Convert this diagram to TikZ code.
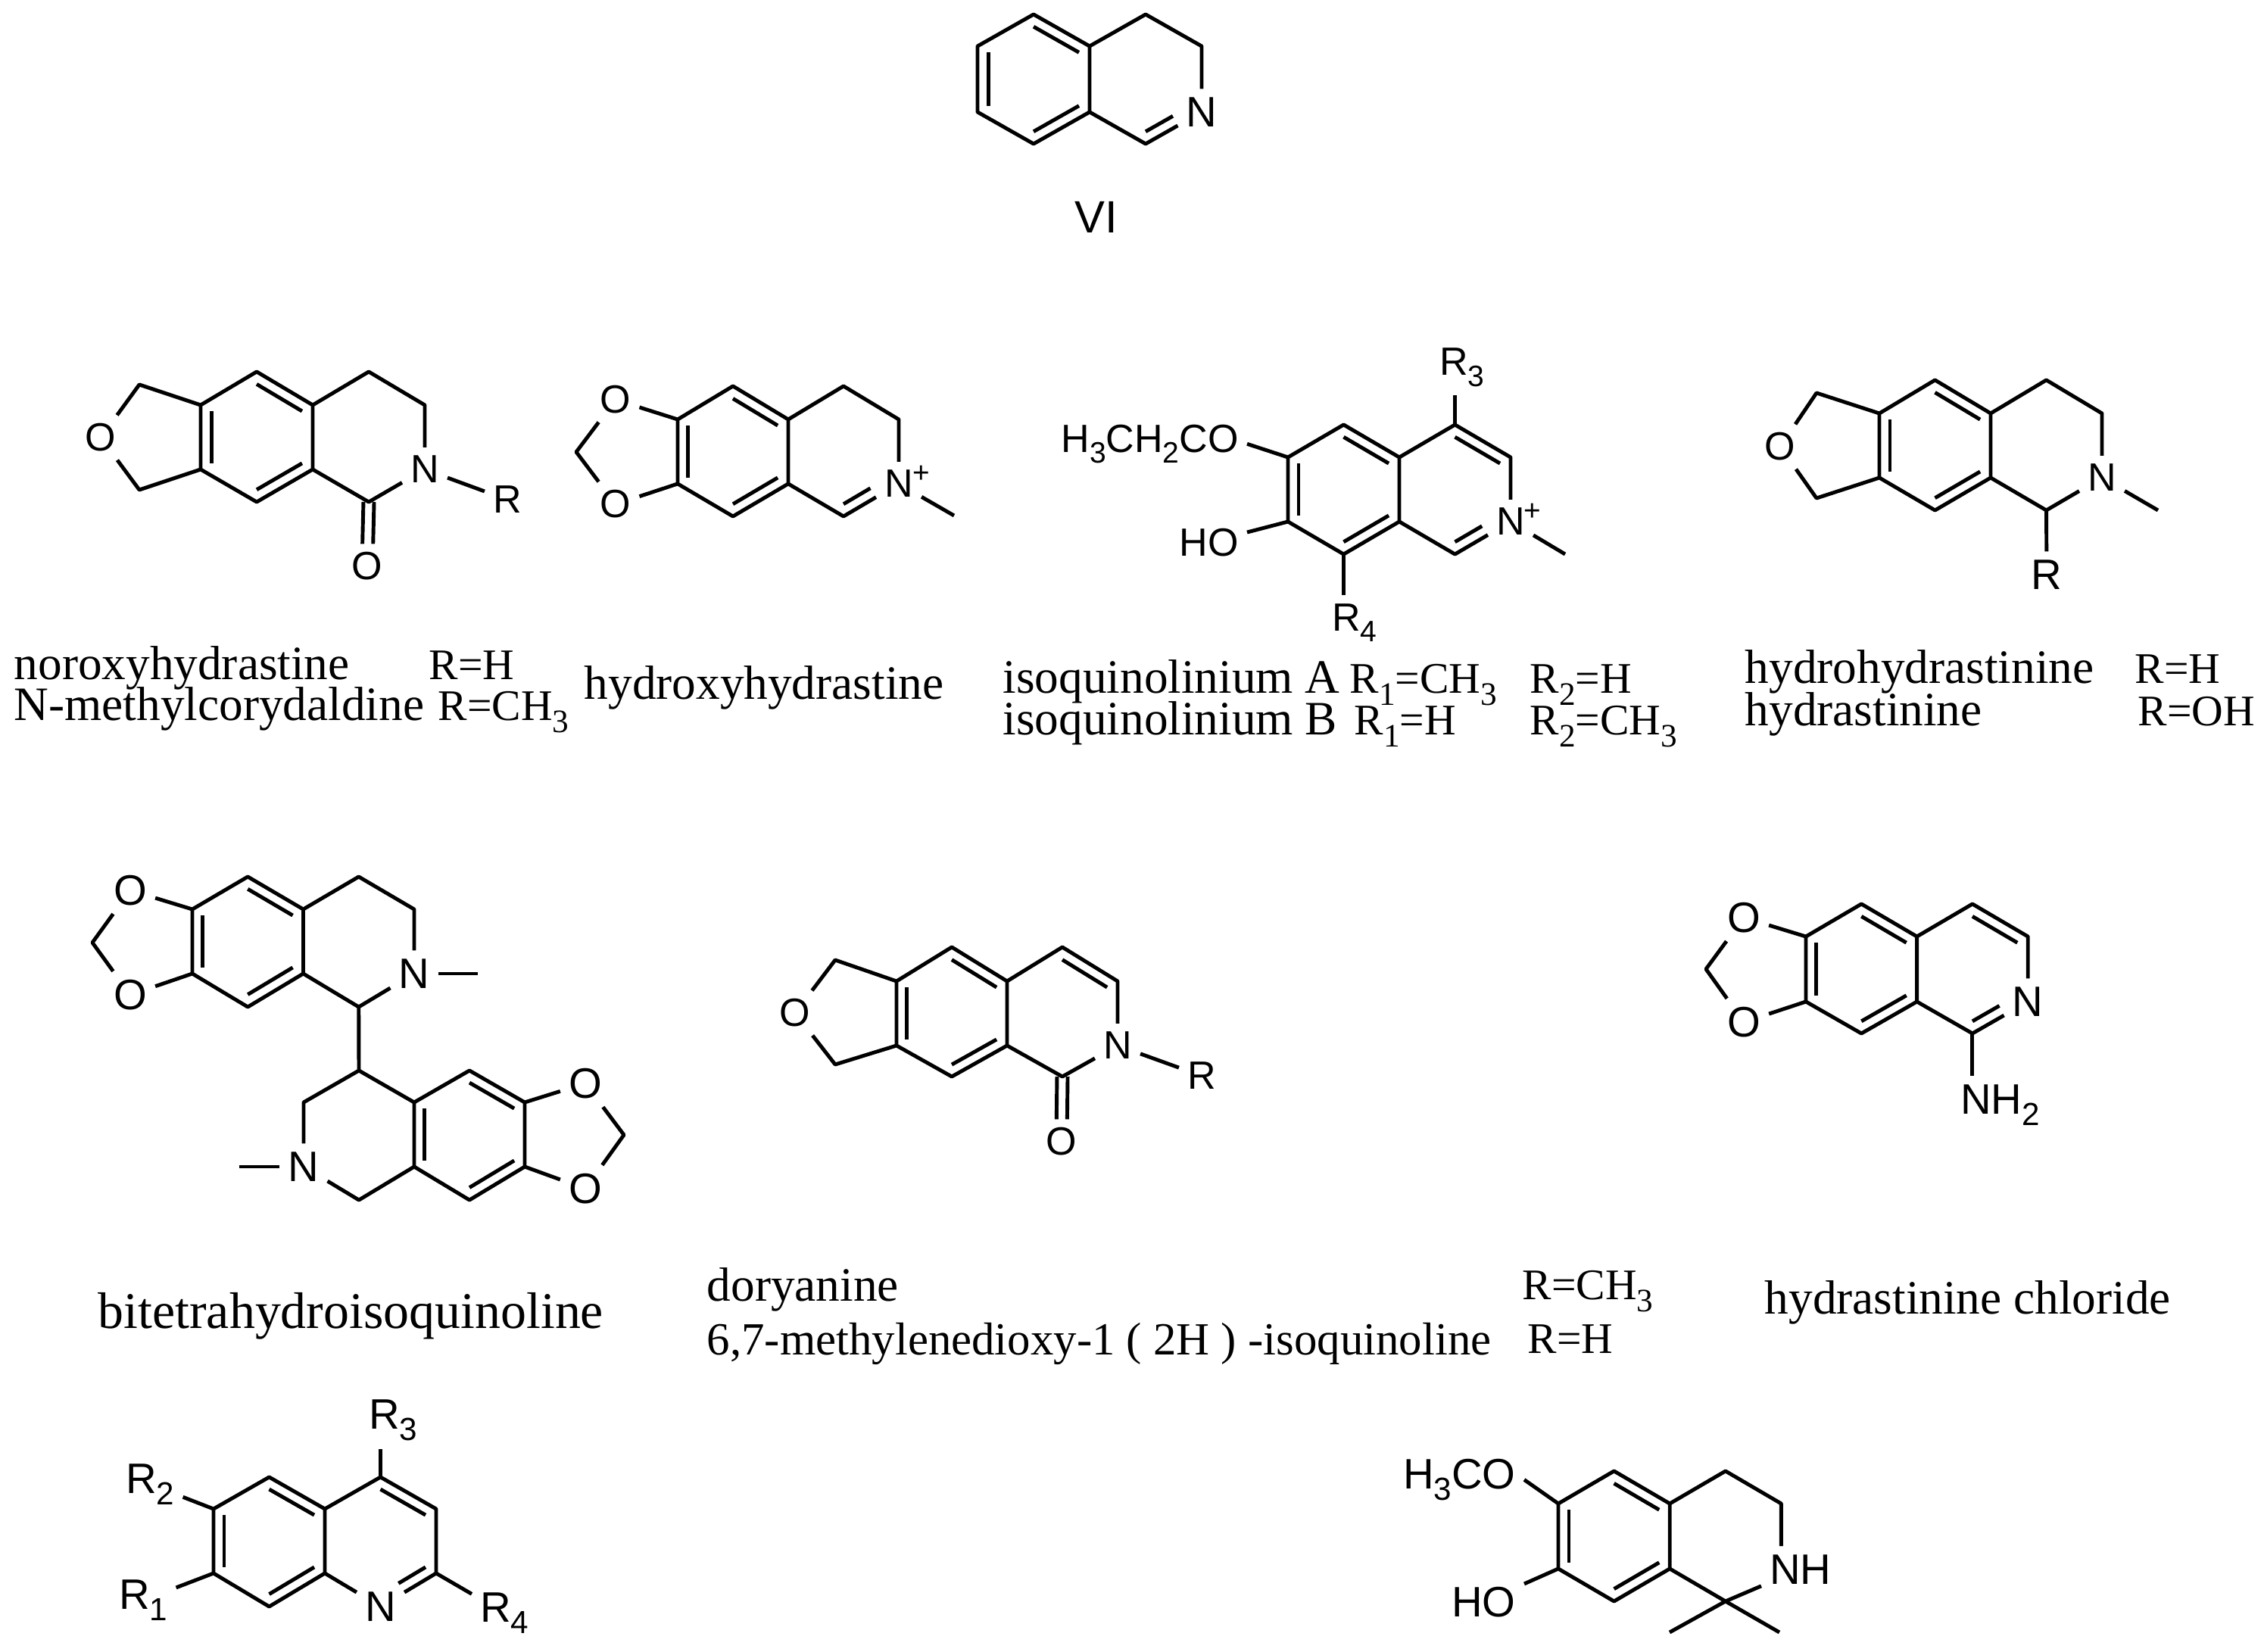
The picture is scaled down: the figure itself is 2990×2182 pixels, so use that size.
\documentclass[tikz,border=0pt]{standalone}
\usepackage{fontspec}
\setmainfont{Liberation Serif}
\setsansfont{Liberation Sans}
\usetikzlibrary{calc}
\tikzset{bond-line/.style={line width=1.4pt, line join=round}}
\tikzset{atom-label/.style={font=\sffamily\fontsize{14.8}{16}\selectfont, inner sep=3pt}}
\tikzset{atom-large/.style={font=\sffamily\fontsize{16}{18}\selectfont, inner sep=3pt}}
\tikzset{plus-label/.style={font=\sffamily\fontsize{11}{12}\selectfont, inner sep=0}}
\tikzset{name-label/.style={font=\fontsize{18}{20}\selectfont, anchor=base west, inner sep=0}}
\tikzset{r-label/.style={font=\fontsize{16.4}{20}\selectfont, anchor=base west, inner sep=0}}
\newcommand\sbs[1]{\raisebox{-0.28em}{\scalebox{0.75}{#1}}}
\newcommand\ringcoords[7]{
    \coordinate (#1a1) at ({#2+#3},#4);
    \coordinate (#1a2) at ({#2+2*#3},#5);
    \coordinate (#1a3) at ({#2+2*#3},#6);
    \coordinate (#1a4) at ({#2+#3},#7);
    \coordinate (#1a5) at (#2,#6);
    \coordinate (#1a6) at (#2,#5);
    \coordinate (#1b1) at ({#2+3*#3},#4);
    \coordinate (#1b2) at ({#2+4*#3},#5);
    \coordinate (#1b3) at ({#2+4*#3},#6);
    \coordinate (#1b4) at ({#2+3*#3},#7);
    \coordinate (#1cl) at ({#2+#3},{(#5+#6)/2});
    \coordinate (#1cr) at ({#2+3*#3},{(#5+#6)/2});
}
\newcommand\innerbond[3]{\draw[bond-line] ($(#1)!.19!(#3)$) -- ($(#2)!.19!(#3)$);}
\newcommand\innerhalf[3]{\draw[bond-line] ($(#1)!.19!(#3)$) -- ($($(#1)!.19!(#3)$)!.6!($(#2)!.19!(#3)$)$);}
\begin{document}
\begin{tikzpicture}[x=0.01cm, y=-0.01cm]
    \useasboundingbox (0,0) rectangle (2990,2182);

    \ringcoords{vi}{1291}{74}{19}{61}{148}{190}
    \node[atom-large] (vin) at (vib3) {N};
    \node[atom-large, font=\sffamily\fontsize{17}{18}\selectfont] (vilab) at (1448,287) {VI};
    \draw[bond-line] (via5) -- (via6) -- (via1) -- (via2) -- (via3) -- (via4) -- cycle;
    \draw[bond-line] (via2) -- (vib1) -- (vib2) -- (vin) -- (vib4) -- (via3);
    \innerbond{via5}{via6}{vicl}
    \innerbond{via1}{via2}{vicl}
    \innerbond{via3}{via4}{vicl}
    \innerhalf{vib4}{vib3}{vicr}

    \ringcoords{nor}{265}{74}{491}{535}{620}{663}
    \coordinate (norf1) at (184,508);
    \coordinate (norf2) at (184,647);
    \node[atom-label] (noro) at (133,578) {O};
    \node[atom-label] (norn) at (norb3) {N};
    \node[atom-label] (norr) at (670,660) {R};
    \node[atom-label] (norco) at (485,748) {O};
    \draw[bond-line] (nora5) -- (nora6) -- (nora1) -- (nora2) -- (nora3) -- (nora4) -- cycle;
    \draw[bond-line] (nora2) -- (norb1) -- (norb2) -- (norn) -- (norb4) -- (nora3);
    \draw[bond-line] (nora6) -- (norf1) -- (noro) -- (norf2) -- (nora5);
    \draw[bond-line] (norn) -- (norr);
    \draw[bond-line, transform canvas={xshift=-2pt}] (norb4) -- (norco);
    \draw[bond-line, transform canvas={xshift=2pt}] (norb4) -- (norco);
    \innerbond{nora5}{nora6}{norcl}
    \innerbond{nora1}{nora2}{norcl}
    \innerbond{nora3}{nora4}{norcl}

    \ringcoords{hyd}{895}{73}{510}{554}{639}{682}
    \coordinate (hydf) at (761,597);
    \coordinate (hydme) at (1260,681);
    \node[atom-label] (hydot) at (813,528) {O};
    \node[atom-label] (hydob) at (813,666) {O};
    \node[atom-label] (hydn) at (hydb3) {N};
    \node[plus-label] (hydplus) at (1217,626) {+};
    \draw[bond-line] (hyda5) -- (hyda6) -- (hyda1) -- (hyda2) -- (hyda3) -- (hyda4) -- cycle;
    \draw[bond-line] (hyda2) -- (hydb1) -- (hydb2) -- (hydn) -- (hydb4) -- (hyda3);
    \draw[bond-line] (hyda6) -- (hydot) -- (hydf) -- (hydob) -- (hyda5);
    \draw[bond-line] (hydn) -- (hydme);
    \innerbond{hyda5}{hyda6}{hydcl}
    \innerbond{hyda1}{hyda2}{hydcl}
    \innerbond{hyda3}{hyda4}{hydcl}
    \innerhalf{hydb4}{hydb3}{hydcr}

    \ringcoords{iso}{1701}{73.5}{561}{604}{689}{732}
    \coordinate (isome) at (2067,732);
    \node[atom-label, anchor=base west] (isor3) at (1890,496) {R\sbs{3}};
    \node[atom-label, anchor=base west] (isor4) at (1748,833) {R\sbs{4}};
    \node[atom-label, anchor=base east] (isooe) at (1647,597) {H\sbs{3}CH\sbs{2}CO};
    \node[atom-label, anchor=base east] (isoho) at (1647,734) {HO};
    \node[atom-label] (ison) at (isob3) {N};
    \node[plus-label] (isoplus) at (2024,676) {+};
    \draw[bond-line] (isoa5) -- (isoa6) -- (isoa1) -- (isoa2) -- (isoa3) -- (isoa4) -- cycle;
    \draw[bond-line] (isoa2) -- (isob1) -- (isob2) -- (ison) -- (isob4) -- (isoa3);
    \draw[bond-line] (isob1) -- (isob1 |- isor3.south);
    \draw[bond-line] (isoa4) -- (isoa4 |- isor4.north);
    \draw[bond-line] (isoa6) -- (isooe.east);
    \draw[bond-line] (isoa5) -- (isoho);
    \draw[bond-line] (ison) -- (isome);
    \innerbond{isoa5}{isoa6}{isocl}
    \innerbond{isoa1}{isoa2}{isocl}
    \innerbond{isoa3}{isoa4}{isocl}
    \innerbond{isob1}{isob2}{isocr}
    \innerhalf{isob4}{isob3}{isocr}

    \ringcoords{dih}{2482}{73.5}{502}{546}{631}{674}
    \coordinate (dihf1) at (2399,519);
    \coordinate (dihf2) at (2399,658);
    \coordinate (dihme) at (2850,674);
    \node[atom-label] (diho) at (2351,590) {O};
    \node[atom-label] (dihn) at (dihb3) {N};
    \node[atom-large] (dihr) at (2703,759) {R};
    \draw[bond-line] (diha5) -- (diha6) -- (diha1) -- (diha2) -- (diha3) -- (diha4) -- cycle;
    \draw[bond-line] (diha2) -- (dihb1) -- (dihb2) -- (dihn) -- (dihb4) -- (diha3);
    \draw[bond-line] (diha6) -- (dihf1) -- (diho) -- (dihf2) -- (diha5);
    \draw[bond-line] (dihn) -- (dihme);
    \draw[bond-line] (dihb4) -- (dihr);
    \innerbond{diha5}{diha6}{dihcl}
    \innerbond{diha1}{diha2}{dihcl}
    \innerbond{diha3}{diha4}{dihcl}

    \ringcoords{bia}{254}{73.25}{1158}{1201}{1286}{1330}
    \coordinate (biaf) at (122,1245);
    \coordinate (biame) at (631,1286);
    \node[atom-large] (biaot) at (172,1176) {O};
    \node[atom-large] (biaob) at (172,1314) {O};
    \node[atom-large] (bian) at (biab3) {N};
    \draw[bond-line] (biaa5) -- (biaa6) -- (biaa1) -- (biaa2) -- (biaa3) -- (biaa4) -- cycle;
    \draw[bond-line] (biaa2) -- (biab1) -- (biab2) -- (bian) -- (biab4) -- (biaa3);
    \draw[bond-line] (biaa6) -- (biaot) -- (biaf) -- (biaob) -- (biaa5);
    \draw[bond-line] (bian) -- (biame);
    \innerbond{biaa5}{biaa6}{biacl}
    \innerbond{biaa1}{biaa2}{biacl}
    \innerbond{biaa3}{biaa4}{biacl}

    \ringcoords{bib}{401}{73}{1414}{1456}{1541}{1585}
    \coordinate (bibf) at (824,1499);
    \coordinate (bibme) at (316,1541);
    \node[atom-large] (bibot) at (773,1431) {O};
    \node[atom-large] (bibob) at (773,1570) {O};
    \node[atom-large] (bibn) at (biba5) {N};
    \draw[bond-line] (biba2) -- (biba1) -- (biba6) -- (bibn) -- (biba4) -- (biba3) -- (biba2);
    \draw[bond-line] (biba2) -- (bibb1) -- (bibb2) -- (bibb3) -- (bibb4) -- (biba3);
    \draw[bond-line] (bibb2) -- (bibot) -- (bibf) -- (bibob) -- (bibb3);
    \draw[bond-line] (bibn) -- (bibme);
    \draw[bond-line] (biab4) -- (biba1);
    \innerbond{biba2}{biba3}{bibcr}
    \innerbond{bibb1}{bibb2}{bibcr}
    \innerbond{bibb3}{bibb4}{bibcr}

    \ringcoords{dor}{1184}{73}{1251}{1296}{1381}{1422}
    \coordinate (dorf1) at (1103,1268);
    \coordinate (dorf2) at (1103,1406);
    \node[atom-label] (doro) at (1050,1338) {O};
    \node[atom-label] (dorn) at (dorb3) {N};
    \node[atom-label] (dorr) at (1587,1421) {R};
    \node[atom-label] (dorco) at (1402,1508) {O};
    \draw[bond-line] (dora5) -- (dora6) -- (dora1) -- (dora2) -- (dora3) -- (dora4) -- cycle;
    \draw[bond-line] (dora2) -- (dorb1) -- (dorb2) -- (dorn) -- (dorb4) -- (dora3);
    \draw[bond-line] (dora6) -- (dorf1) -- (doro) -- (dorf2) -- (dora5);
    \draw[bond-line] (dorn) -- (dorr);
    \draw[bond-line, transform canvas={xshift=-2pt}] (dorb4) -- (dorco);
    \draw[bond-line, transform canvas={xshift=2pt}] (dorb4) -- (dorco);
    \innerbond{dora5}{dora6}{dorcl}
    \innerbond{dora1}{dora2}{dorcl}
    \innerbond{dora3}{dora4}{dorcl}
    \innerbond{dorb1}{dorb2}{dorcr}

    \ringcoords{cl}{2385}{73.3}{1194}{1237}{1323}{1365}
    \coordinate (clf) at (2253,1280);
    \node[atom-large] (clot) at (2303,1212) {O};
    \node[atom-large] (clob) at (2303,1350) {O};
    \node[atom-large] (cln) at (clb3) {N};
    \node[atom-large, anchor=base west] (clnh) at (2578,1471) {NH\sbs{2}};
    \draw[bond-line] (cla5) -- (cla6) -- (cla1) -- (cla2) -- (cla3) -- (cla4) -- cycle;
    \draw[bond-line] (cla2) -- (clb1) -- (clb2) -- (cln) -- (clb4) -- (cla3);
    \draw[bond-line] (cla6) -- (clot) -- (clf) -- (clob) -- (cla5);
    \draw[bond-line] (clb4) -- (clb4 |- clnh.north);
    \innerbond{cla5}{cla6}{clcl}
    \innerbond{cla1}{cla2}{clcl}
    \innerbond{cla3}{cla4}{clcl}
    \innerbond{clb1}{clb2}{clcr}
    \innerhalf{clb4}{clb3}{clcr}

    \ringcoords{qu}{282}{73.5}{1951}{1993}{2078}{2122}
    \node[atom-large] (qun) at (qub4) {N};
    \node[atom-large, anchor=base west] (qur1) at (146,2125) {R\sbs{1}};
    \node[atom-large, anchor=base west] (qur2) at (155,1972) {R\sbs{2}};
    \node[atom-large, anchor=base west] (qur3) at (476,1887) {R\sbs{3}};
    \node[atom-large, anchor=base west] (qur4) at (623,2142) {R\sbs{4}};
    \draw[bond-line] (qua5) -- (qua6) -- (qua1) -- (qua2) -- (qua3) -- (qua4) -- cycle;
    \draw[bond-line] (qua2) -- (qub1) -- (qub2) -- (qub3) -- (qun) -- (qua3);
    \draw[bond-line] (qua5) -- (qur1);
    \draw[bond-line] (qua6) -- (qur2);
    \draw[bond-line] (qub1) -- (qub1 |- qur3.south);
    \draw[bond-line] (qub3) -- (qur4);
    \innerbond{qua5}{qua6}{qucl}
    \innerbond{qua1}{qua2}{qucl}
    \innerbond{qua3}{qua4}{qucl}
    \innerbond{qub1}{qub2}{qucr}
    \innerhalf{qub3}{qub4}{qucr}

    \ringcoords{me}{2058}{73.6}{1943}{1986}{2072}{2115}
    \coordinate (meme1) at (2205,2156);
    \coordinate (meme2) at (2350,2156);
    \node[atom-large, anchor=base east] (meoc) at (2013,1966) {H\sbs{3}CO};
    \node[atom-large, anchor=base east] (meho) at (2013,2135) {HO};
    \node[atom-large, anchor=base west] (menh) at (2326,2092) {NH};
    \draw[bond-line] (mea5) -- (mea6) -- (mea1) -- (mea2) -- (mea3) -- (mea4) -- cycle;
    \draw[bond-line] (mea2) -- (meb1) -- (meb2) -- (meb2 |- menh.north);
    \draw[bond-line] (mea3) -- (meb4) -- (menh);
    \draw[bond-line] (mea6) -- (meoc.east);
    \draw[bond-line] (mea5) -- (meho);
    \draw[bond-line] (meb4) -- (meme1);
    \draw[bond-line] (meb4) -- (meme2);
    \innerbond{mea5}{mea6}{mecl}
    \innerbond{mea1}{mea2}{mecl}
    \innerbond{mea3}{mea4}{mecl}

    \node[name-label] (lab1) at (18,897) {noroxyhydrastine};
    \node[r-label] (lab2) at (566,897) {R=H};
    \node[name-label] (lab3) at (18,951) {N-methylcorydaldine};
    \node[r-label] (lab4) at (578,951) {R=CH\sbs{3}};
    \node[name-label] (lab5) at (771,923) {hydroxyhydrastine};
    \node[name-label] (lab6) at (1324,915) {isoquinolinium A};
    \node[r-label] (lab7) at (1782,915) {R\sbs{1}=CH\sbs{3}};
    \node[r-label] (lab8) at (2020,915) {R\sbs{2}=H};
    \node[name-label] (lab9) at (1324,970) {isoquinolinium B};
    \node[r-label] (lab10) at (1788,970) {R\sbs{1}=H};
    \node[r-label] (lab11) at (2020,970) {R\sbs{2}=CH\sbs{3}};
    \node[name-label] (lab12) at (2304,902) {hydrohydrastinine};
    \node[r-label] (lab13) at (2819,902) {R=H};
    \node[name-label] (lab14) at (2304,958) {hydrastinine};
    \node[r-label] (lab15) at (2823,958) {R=OH};
    \node[name-label, font=\fontsize{19.3}{22}\selectfont] (lab16) at (129,1754) {bitetrahydroisoquinoline};
    \node[name-label] (lab17) at (933,1718) {doryanine};
    \node[r-label] (lab18) at (2010,1716) {R=CH\sbs{3}};
    \node[name-label, font=\fontsize{17.3}{20}\selectfont] (lab19) at (933,1789) {6,7-methylenedioxy-1 ( 2H ) -isoquinoline};
    \node[r-label] (lab20) at (2017,1787) {R=H};
    \node[name-label] (lab21) at (2330,1735) {hydrastinine chloride};
\end{tikzpicture}
\end{document}
